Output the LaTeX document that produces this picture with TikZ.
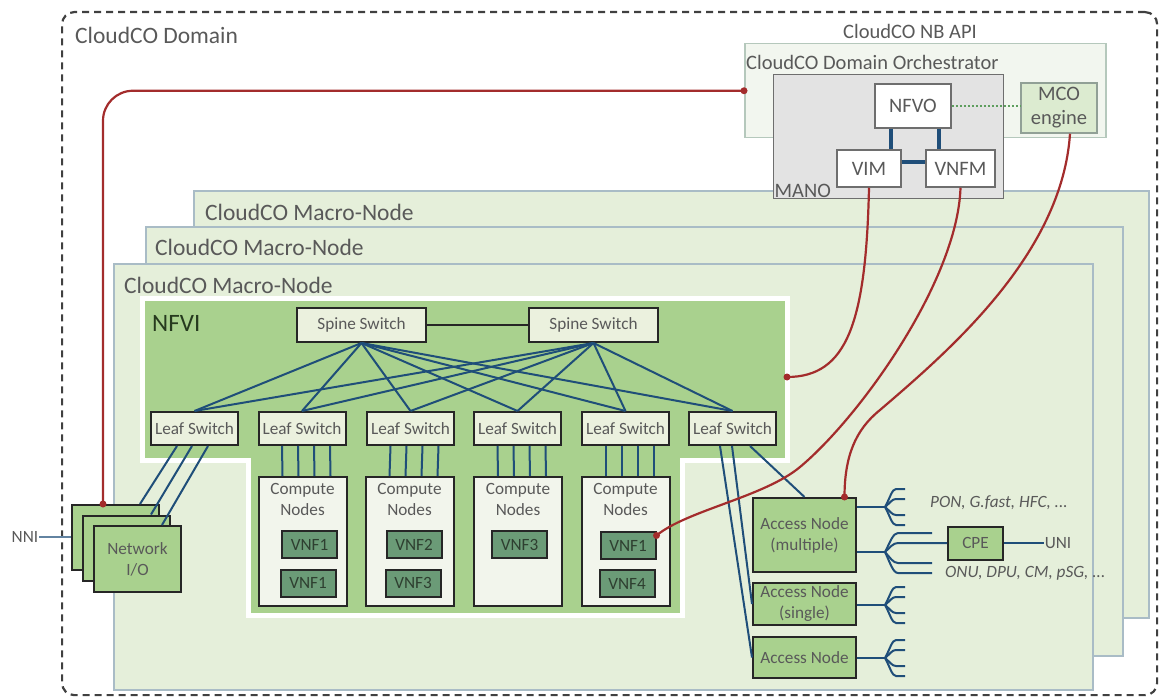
\documentclass[tikz,border=0pt]{standalone}
\usepackage{fontspec}
\setmainfont{Carlito}
\usetikzlibrary{positioning}

\definecolor{domline}{HTML}{404040}
\definecolor{macrofill}{HTML}{E5EFDA}
\definecolor{macroline}{HTML}{A9BCC6}
\definecolor{nfvifill}{HTML}{A9D18E}
\definecolor{nfvitext}{HTML}{263A1E}
\definecolor{swfill}{HTML}{EBF1DE}
\definecolor{compfill}{HTML}{F2F5EC}
\definecolor{vnffill}{HTML}{6B9B77}
\definecolor{vnftext}{HTML}{2E3F30}
\definecolor{boxline}{HTML}{262626}
\definecolor{linkblue}{HTML}{1F4E79}
\definecolor{mgmtred}{HTML}{A32C2C}
\definecolor{txtgray}{HTML}{595959}
\definecolor{orchfill}{HTML}{F2F6EF}
\definecolor{orchline}{HTML}{B5C8BC}
\definecolor{manofill}{HTML}{E3E3E3}
\definecolor{manoline}{HTML}{6E6E6E}
\definecolor{mcofill}{HTML}{DCEBD0}
\definecolor{dotgreen}{HTML}{5E9E5E}

\newcommand\szX{\fontsize{25}{28}\selectfont}
\newcommand\szL{\fontsize{23.5}{26}\selectfont}
\newcommand\szM{\fontsize{20.5}{24}\selectfont}
\newcommand\szS{\fontsize{17.2}{21}\selectfont}

\tikzset{
  macro/.style={draw=macroline,fill=macrofill,line width=1.5pt,anchor=north west,inner sep=0pt},
  boxlbl/.style={anchor=west,text=txtgray,inner sep=0pt},
  swbox/.style={draw=boxline,fill=swfill,line width=2pt,inner sep=1pt,minimum width=87pt,minimum height=33pt,font=\szS,text=txtgray},
  compbox/.style={draw=boxline,fill=compfill,line width=2pt,minimum width=88pt,minimum height=129pt},
  vnfbox/.style={draw=boxline,fill=vnffill,line width=2pt,inner sep=0pt,minimum width=55pt,minimum height=27pt,font=\szS,text=vnftext},
  gbox/.style={draw=boxline,fill=nfvifill,line width=2pt,inner sep=0pt,align=center,font=\szS,text=txtgray},
  manobox/.style={draw=manoline,fill=white,line width=1.5pt,inner sep=0pt,font=\szM,text=txtgray,align=center},
  link/.style={draw=linkblue,line width=2pt},
  mgmt/.style={draw=mgmtred,line width=2.2pt},
}

\begin{document}
\begin{tikzpicture}[x=1pt,y=-1pt]
\useasboundingbox (0,0) rectangle (1159,698);

% domain
\node[draw=domline,line width=2.2pt,dash pattern=on 7pt off 5pt,rounded corners=12pt,anchor=north west,minimum width=1095pt,minimum height=683pt](dom)at(61,11){};
\node[boxlbl,font=\szL](domlbl)at(75,35){CloudCO Domain};

% macro-nodes, back to front
\node[macro,minimum width=955pt,minimum height=427pt](mn3)at(193,190){};
\node[boxlbl,font=\szL](mn3lbl)at(205,212){CloudCO Macro-Node};
\node[macro,minimum width=977pt,minimum height=429pt](mn2)at(145,226){};
\node[boxlbl,font=\szL](mn2lbl)at(155,247){CloudCO Macro-Node};
\node[macro,minimum width=979pt,minimum height=426pt](mn1)at(113,263){};
\node[boxlbl,font=\szL](mn1lbl)at(124,285){CloudCO Macro-Node};

% NFVI area
\draw[draw=white,line width=5pt,fill=nfvifill](142,298)--(787,298)--(787,460)--(682,460)--(682,615)--(248,615)--(248,460)--(142,460)--cycle;
\node[boxlbl,font=\szX,text=nfvitext](nfvilbl)at(152,323){NFVI};
\coordinate(nfviport)at(787,377);

% switches
\node[swbox,minimum width=129pt,minimum height=34pt](sp1)at(361.5,325){Spine Switch};
\node[swbox,minimum width=129pt,minimum height=34pt](sp2)at(593.5,325){Spine Switch};
\draw[line width=1.6pt,draw=boxline](sp1)--(sp2);
\foreach \i/\x in {1/194.5,2/302,3/410.5,4/517.5,5/625.5,6/732.5}
  \node[swbox](lf\i)at(\x,428.5){Leaf Switch};
\foreach \s in {1,2}
  \foreach \l in {1,...,6}
    \draw[link](sp\s.south)--(lf\l.north);

% compute nodes
\foreach \i/\x in {1/302.5,2/409.5,3/518,4/625.5}{
  \node[compbox](cn\i)at(\x,541.5){};
  \node[below=7pt of cn\i.north,inner sep=0pt,align=center,font=\szS,text=txtgray](cnl\i){Compute\\Nodes};
}
\foreach \i/\j in {1/2,2/3,3/4,4/5}
  \foreach \d in {-20,-4,12,28}
    \draw[link]([xshift=\d]lf\j.south)--([xshift=\d]cn\i.north);
\node[vnfbox](v11)at(309.5,544.5){VNF1};
\node[vnfbox](v12)at(308,583){VNF1};
\node[vnfbox](v21)at(414,544.5){VNF2};
\node[vnfbox](v22)at(413,583){VNF3};
\node[vnfbox](v31)at(519.5,544.5){VNF3};
\node[vnfbox](v41)at(628,545.5){VNF1};
\node[vnfbox](v42)at(627,583.5){VNF4};

% network I/O
\node[gbox,minimum width=87pt,minimum height=65pt](io1)at(115.5,537.5){};
\node[gbox,minimum width=87pt,minimum height=65pt](io2)at(126.5,548){};
\node[gbox,minimum width=87pt,minimum height=66pt](io3)at(137.5,559){Network\\I/O};
\draw[link]([xshift=-17.5]lf1.south)--([xshift=24.5]io1.north);
\draw[link]([xshift=-2.5]lf1.south)--([xshift=24.5]io2.north);
\draw[link]([xshift=13.5]lf1.south)--([xshift=24.5]io3.north);
\node[font=\szS,text=txtgray,inner sep=1pt](nni)at(25,537){NNI};
\draw[draw=linkblue!70,line width=1.6pt](nni.east)--(io1.west |- nni.east);

% access nodes
\node[gbox,minimum width=103pt,minimum height=74pt](an1)at(804.5,535){Access Node\\(multiple)};
\node[gbox,minimum width=103pt,minimum height=42pt](an2)at(804.5,604){Access Node\\(single)};
\node[gbox,minimum width=103pt,minimum height=41pt](an3)at(804.5,657.5){Access Node};
\draw[link]([xshift=-12.5]lf6.south)--(an3.west);
\draw[link]([xshift=-0.5]lf6.south)--(an2.west);
\draw[link]([xshift=17.5]lf6.south)--(an1.north);

% fan-outs
\coordinate(fk1)at(885,507);
\coordinate(fk2)at(885,552);
\coordinate(fk3)at(885,605);
\coordinate(fk4)at(885,658);
\draw[link](an1.east |- fk1)--(fk1);
\draw[link](an1.east |- fk2)--(fk2);
\draw[link](an2.east |- fk3)--(fk3);
\draw[link](an3.east |- fk4)--(fk4);
\foreach \k in {1,3,4}
  \foreach \d in {-18,-8,8,18}
    \draw[link](fk\k)..controls +(5,0.5*\d) and +(-4,0)..+(11,\d)--+(20,\d);
\foreach \d in {-19,11,21}
  \draw[link](fk2)..controls +(5,0.5*\d) and +(-5,0)..+(13,\d)--+(47,\d);
\node[gbox,minimum width=55pt,minimum height=33pt](cpe)at(975.5,543){CPE};
\draw[link](fk2)..controls +(5,-4.5) and +(-5,0)..+(13,-9)--(cpe.west);
\node[font=\szS,text=txtgray,inner sep=1pt](uni)at(1058,543){UNI};
\draw[link](cpe.east)--(uni.west);
\node[boxlbl,font=\szS\itshape](pon)at(930,503){PON, G.fast, HFC, ...};
\node[boxlbl,font=\szS\itshape](onu)at(945,573){ONU, DPU, CM, pSG, ...};

% orchestrator
\node[font=\szM,text=txtgray](nbapi)at(910,31){CloudCO NB API};
\node[draw=orchline,fill=orchfill,line width=1.5pt,anchor=north west,minimum width=361pt,minimum height=94pt](orch)at(744,43){};
\node[boxlbl,font=\szM](orchlbl)at(746,62){CloudCO Domain Orchestrator};
\node[draw=manoline,fill=manofill,line width=1.2pt,anchor=north west,minimum width=230pt,minimum height=124pt](mano)at(773,74){};
\node[anchor=south west,font=\szM,text=txtgray,inner sep=1.5pt](manolbl)at(mano.south west){MANO};
\node[manobox,minimum width=76pt,minimum height=44pt](nfvo)at(913,106){NFVO};
\node[manobox,minimum width=64pt,minimum height=37pt](vim)at(869,168.5){VIM};
\node[manobox,minimum width=69pt,minimum height=37pt](vnfm)at(960.5,168.5){VNFM};
\node[manobox,draw=orchline!80!black,fill=mcofill,minimum width=76pt,minimum height=50pt](mco)at(1059,108){MCO\\engine};
\draw[draw=linkblue,line width=3.5pt]([xshift=-22]nfvo.south)--([xshift=-22]nfvo.south |- vim.north);
\draw[draw=linkblue,line width=3.5pt]([xshift=26]nfvo.south)--([xshift=26]nfvo.south |- vnfm.north);
\draw[draw=linkblue,line width=3.5pt]([yshift=6.5]vim.east)--([yshift=6.5]vnfm.west);
\draw[draw=dotgreen,line width=2pt,dotted](nfvo.east)--(nfvo.east -| mco.west);

% management links
\coordinate(ioin)at([xshift=-12.5]io1.north);
\coordinate(vnfin)at([yshift=10]v41.east);
\coordinate(anin)at([xshift=40]an1.north);
\draw[mgmt,rounded corners=30pt](orch.west)-|(ioin);
\draw[mgmt](vim.south)..controls +(-3,135) and +(60,0)..(nfviport);
\draw[mgmt](vnfm.south)..controls +(-3,93) and +(60,-50)..(800,467)..controls +(-36,30) and +(30,-25)..(vnfin);
\draw[mgmt]([xshift=11]mco.south)..controls +(-8,120) and +(70,-60)..(880,410)..controls +(-25,20) and +(0,-40)..(anin);
\foreach \p in {orch.west,ioin,nfviport,vnfin,anin}
  \fill[mgmtred](\p)circle(3.5);
\end{tikzpicture}
\end{document}
